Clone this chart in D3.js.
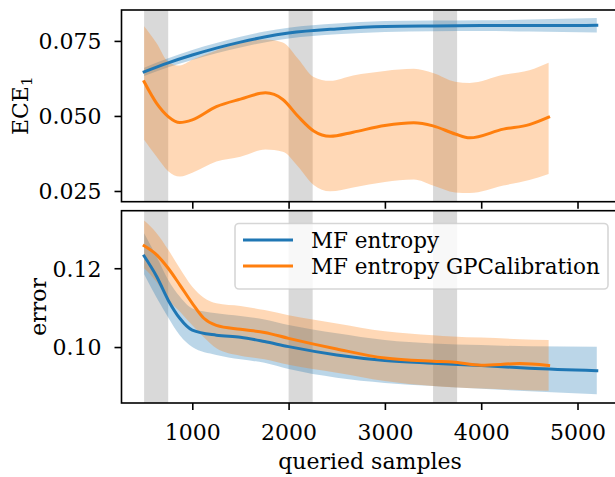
<!DOCTYPE html>
<html>
<head>
<meta charset="utf-8">
<script src="https://cdn.jsdelivr.net/npm/d3@7"></script>
<style>
  body { margin: 0; background: #fff; }
  svg { display: block; }
  text { font-family: "DejaVu Serif", serif; fill: #000; }
  .axis path, .axis line { stroke: #000; stroke-width: 1.6; }
  .axis text { font-size: 22px; font-family: "DejaVu Serif", serif; }
</style>
</head>
<body>
<script>
// gray query windows
var spans = [[500, 750], [2000, 2250], [3500, 3750]];

// ECE, MF entropy
var eceBlueX = [500, 750, 1000, 1250, 1500, 1750, 2000, 2500, 3000, 3500, 4000, 4500, 5200];
var eceBlueMean = [0.0647, 0.0677, 0.0703, 0.0726, 0.0746, 0.0763, 0.0776, 0.0790, 0.0798, 0.0800, 0.0801, 0.0801, 0.0802];
var eceBlueHi = [0.0661, 0.0692, 0.0720, 0.0743, 0.0764, 0.0781, 0.0794, 0.0808, 0.0816, 0.0818, 0.0819, 0.0821, 0.0826];
var eceBlueLo = [0.0633, 0.0662, 0.0686, 0.0709, 0.0728, 0.0745, 0.0758, 0.0772, 0.0780, 0.0782, 0.0783, 0.0781, 0.0778];

// ECE, MF entropy GPCalibration
var eceOrangeX = [500, 630, 750, 870, 1000, 1250, 1500, 1760, 1940, 2100, 2260, 2430, 2670, 3000, 3300, 3500, 3730, 3880, 4230, 4500, 4700];
var eceOrangeMean = [0.0614, 0.0542, 0.0498, 0.0478, 0.0487, 0.0531, 0.0556, 0.0577, 0.0555, 0.0498, 0.0450, 0.0432, 0.0446, 0.0468, 0.0477, 0.0467, 0.0440, 0.0427, 0.0456, 0.0471, 0.0496];
var eceOrangeHi = [0.0799, 0.0742, 0.0680, 0.0668, 0.0687, 0.0718, 0.0745, 0.0755, 0.0745, 0.0690, 0.0630, 0.0617, 0.0635, 0.0650, 0.0657, 0.0643, 0.0614, 0.0610, 0.0637, 0.0652, 0.0677];
var eceOrangeLo = [0.0421, 0.0364, 0.0316, 0.0298, 0.0311, 0.0348, 0.0364, 0.0388, 0.0381, 0.0331, 0.0270, 0.0249, 0.0262, 0.0280, 0.0288, 0.0268, 0.0245, 0.0243, 0.0268, 0.0287, 0.0307];

// error, MF entropy
var errBlueX = [500, 630, 750, 870, 1000, 1250, 1500, 1750, 2000, 2500, 3000, 3500, 4000, 4500, 5200];
var errBlueMean = [0.1231, 0.1179, 0.1119, 0.1073, 0.1043, 0.1030, 0.1025, 0.1014, 0.1001, 0.0980, 0.0966, 0.0959, 0.0953, 0.0946, 0.0940];
var errBlueHi = [0.1289, 0.1229, 0.1170, 0.1128, 0.1098, 0.1086, 0.1079, 0.1070, 0.1056, 0.1035, 0.1018, 0.1009, 0.1005, 0.1002, 0.1001];
var errBlueLo = [0.1185, 0.1125, 0.1075, 0.1030, 0.1000, 0.0980, 0.0969, 0.0960, 0.0944, 0.0922, 0.0909, 0.0901, 0.0894, 0.0888, 0.0880];

// error, MF entropy GPCalibration
var errOrangeX = [500, 630, 750, 870, 1000, 1120, 1250, 1500, 1750, 2000, 2500, 3000, 3500, 3700, 4000, 4400, 4700];
var errOrangeMean = [0.1257, 0.1234, 0.1200, 0.1158, 0.1111, 0.1073, 0.1055, 0.1045, 0.1037, 0.1022, 0.0995, 0.0972, 0.0964, 0.0962, 0.0954, 0.0958, 0.0953];
var errOrangeHi = [0.1321, 0.1289, 0.1247, 0.1200, 0.1153, 0.1125, 0.1111, 0.1104, 0.1094, 0.1081, 0.1060, 0.1040, 0.1030, 0.1027, 0.1024, 0.1020, 0.1018];
var errOrangeLo = [0.1200, 0.1165, 0.1120, 0.1090, 0.1055, 0.1025, 0.0997, 0.0978, 0.0969, 0.0955, 0.0935, 0.0914, 0.0901, 0.0898, 0.0895, 0.0891, 0.0889];

var xTicks = [1000, 2000, 3000, 4000, 5000];
var eceTicks = [0.025, 0.050, 0.075];
var errTicks = [0.10, 0.12];
var legendLabels = ["MF entropy", "MF entropy GPCalibration"];
var colors = ["#1f77b4", "#ff7f0e"];

(function(){
    var width = 615, height = 477;
    var left = 121.5, right = 619.4;

    var svg = d3.select("body").append("svg")
        .attr("width", width)
        .attr("height", height);

    var x = d3.scaleLinear().domain([265, 5435]).range([left, right]);

    var panels = [
        {top: 10, bottom: 201.7, domain: [0.02143, 0.0853], ticks: eceTicks, fmt: d3.format(".3f"),
         series: [
            {xs: eceBlueX, m: eceBlueMean, lo: eceBlueLo, hi: eceBlueHi, c: colors[0]},
            {xs: eceOrangeX, m: eceOrangeMean, lo: eceOrangeLo, hi: eceOrangeHi, c: colors[1]}
         ]},
        {top: 210.7, bottom: 403, domain: [0.0858, 0.1346], ticks: errTicks, fmt: d3.format(".2f"),
         series: [
            {xs: errBlueX, m: errBlueMean, lo: errBlueLo, hi: errBlueHi, c: colors[0]},
            {xs: errOrangeX, m: errOrangeMean, lo: errOrangeLo, hi: errOrangeHi, c: colors[1]}
         ]}
    ];

    panels.forEach(function(p, pi){
        var y = d3.scaleLinear().domain(p.domain).range([p.bottom, p.top]);
        var g = svg.append("g");

        //gray windows
        g.selectAll(".span")
            .data(spans)
            .enter()
            .append("rect")
            .attr("x", d => x(d[0]))
            .attr("width", d => x(d[1]) - x(d[0]))
            .attr("y", p.top)
            .attr("height", p.bottom - p.top)
            .style("fill", "gray")
            .style("opacity", 0.3);

        //bands
        p.series.forEach(function(s){
            var pts = s.xs.map((v, i) => ({x: v, m: s.m[i], lo: s.lo[i], hi: s.hi[i]}));
            var area = d3.area()
                .x(d => x(d.x))
                .y0(d => y(d.lo))
                .y1(d => y(d.hi))
                .curve(d3.curveMonotoneX);
            g.append("path")
                .attr("d", area(pts))
                .style("fill", s.c)
                .style("fill-opacity", 0.3);
        });

        //mean lines
        p.series.forEach(function(s){
            var pts = s.xs.map((v, i) => ({x: v, m: s.m[i]}));
            var line = d3.line()
                .x(d => x(d.x))
                .y(d => y(d.m))
                .curve(d3.curveMonotoneX);
            g.append("path")
                .attr("d", line(pts))
                .style("fill", "none")
                .style("stroke", s.c)
                .style("stroke-width", 3)
                .style("stroke-linecap", "square");
        });

        //axes
        var yAxis = g.append("g")
            .attr("class", "axis")
            .attr("transform", "translate(" + left + ",0)")
            .call(d3.axisLeft(y).tickValues(p.ticks).tickFormat(p.fmt).tickSize(7).tickPadding(13));
        yAxis.select(".domain").remove();
        yAxis.selectAll("text").attr("dy", "0.36em");

        var xAxis = g.append("g")
            .attr("class", "axis")
            .attr("transform", "translate(0," + p.bottom + ")")
            .call(d3.axisBottom(x).tickValues(xTicks).tickSize(7).tickPadding(9).tickFormat(pi === 1 ? d3.format("d") : ""));
        xAxis.select(".domain").remove();
        xAxis.selectAll("text").attr("dy", "0.95em");

        //frame
        g.append("rect")
            .attr("x", left)
            .attr("y", p.top)
            .attr("width", right - left)
            .attr("height", p.bottom - p.top)
            .style("fill", "none")
            .style("stroke", "#000")
            .style("stroke-width", 1.6);
    });

    //y labels
    var ece = svg.append("text")
        .attr("transform", "translate(28,105.8) rotate(-90)")
        .attr("text-anchor", "middle")
        .style("font-size", "22px");
    ece.append("tspan").text("ECE");
    ece.append("tspan").text("1")
        .attr("dy", "0.25em")
        .style("font-size", "15px");

    svg.append("text")
        .attr("transform", "translate(46,306.8) rotate(-90)")
        .attr("text-anchor", "middle")
        .style("font-size", "22px")
        .text("error");

    svg.append("text")
        .attr("x", 370)
        .attr("y", 469)
        .attr("text-anchor", "middle")
        .style("font-size", "22px")
        .text("queried samples");

    //legend
    var lg = svg.append("g");
    lg.append("rect")
        .attr("x", 235)
        .attr("y", 223.5)
        .attr("width", 373)
        .attr("height", 65.5)
        .attr("rx", 4)
        .style("fill", "#fff")
        .style("fill-opacity", 0.8)
        .style("stroke", "#cccccc")
        .style("stroke-opacity", 0.8)
        .style("stroke-width", 1.6);
    legendLabels.forEach(function(t, i){
        var yy = 240 + i * 26;
        lg.append("line")
            .attr("x1", 243).attr("x2", 293)
            .attr("y1", yy).attr("y2", yy)
            .style("stroke", colors[i])
            .style("stroke-width", 3);
        lg.append("text")
            .attr("x", 311)
            .attr("y", yy + 8)
            .style("font-size", "21.5px")
            .text(t);
    });
})();
</script>
</body>
</html>
